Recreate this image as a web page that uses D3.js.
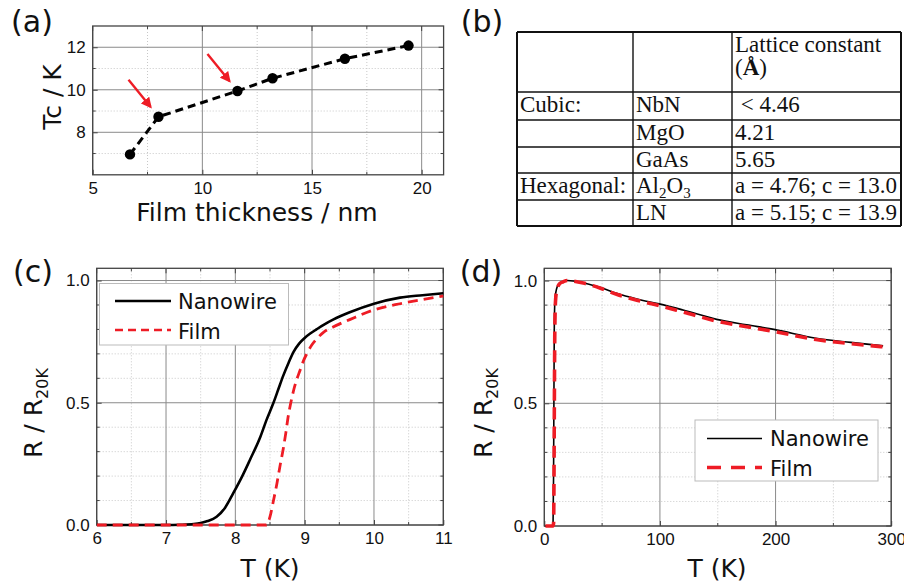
<!DOCTYPE html>
<html>
<head>
<meta charset="utf-8">
<script src="https://cdn.jsdelivr.net/npm/d3@7"></script>
<style>
  body { margin: 0; background: #fff; }
  svg { display: block; }
</style>
</head>
<body>
<div id="chart"></div>
<script>
// (a) Tc vs film thickness
const thickness = [6.7, 8.0, 11.6, 13.2, 16.5, 19.4];
const tcValues = [6.96, 8.73, 9.94, 10.54, 11.46, 12.08];
const arrowAt = [1, 2]; // indexes of points marked by red arrows

// (b) lattice table
const tableHeader = ["", "", "Lattice constant"];
const tableRows = [
  ["Cubic:", "NbN", " < 4.46"],
  ["", "MgO", "4.21"],
  ["", "GaAs", "5.65"],
  ["Hexagonal:", "Al2O3", "a = 4.76; c = 13.0"],
  ["", "LN", "a = 5.15; c = 13.9"],
];

// (c) transition zoom
const cWireT = [6.0, 6.5, 7.0, 7.2, 7.4, 7.5, 7.6, 7.73, 7.85, 7.97, 8.1, 8.21, 8.36, 8.45, 8.55, 8.62, 8.69, 8.77, 8.84, 8.92, 9.0, 9.08, 9.17, 9.28, 9.41, 9.65, 10.0, 10.375, 10.7, 11.0];
const cWireR = [0, 0, 0, 0.001, 0.004, 0.008, 0.016, 0.034, 0.07, 0.13, 0.2, 0.266, 0.36, 0.43, 0.5, 0.555, 0.61, 0.665, 0.708, 0.742, 0.765, 0.783, 0.8, 0.82, 0.84, 0.87, 0.905, 0.93, 0.94, 0.948];
const cFilmT = [6.0, 7.0, 8.0, 8.45, 8.5, 8.55, 8.6, 8.65, 8.69, 8.73, 8.76, 8.8, 8.84, 8.88, 8.93, 8.98, 9.03, 9.1, 9.17, 9.28, 9.41, 9.65, 10.0, 10.375, 10.7, 11.0];
const cFilmR = [0, 0, 0, 0, 0.034, 0.1, 0.17, 0.25, 0.31, 0.38, 0.44, 0.5, 0.55, 0.59, 0.63, 0.67, 0.7, 0.735, 0.76, 0.79, 0.81, 0.84, 0.88, 0.905, 0.922, 0.937];

// (d) full range
const dWireT = [1, 4, 7, 7.6, 8.0, 8.3, 8.6, 9.0, 9.5, 10.3, 11.2, 13, 16.4, 20, 25, 33.7, 48, 62.5, 80, 99.3, 120, 149, 175, 199.5, 235, 265, 293];
const dWireR = [0, 0, 0, 0.02, 0.2, 0.5, 0.78, 0.9, 0.935, 0.96, 0.975, 0.988, 0.996, 1.0, 0.998, 0.99, 0.973, 0.948, 0.925, 0.905, 0.88, 0.842, 0.82, 0.8, 0.765, 0.748, 0.734];
const dFilmT = [1, 4, 7.5, 8.0, 8.4, 8.7, 9.0, 9.4, 9.9, 10.6, 11.5, 13, 16.4, 20, 25, 33.7, 48, 62.5, 80, 99.3, 120, 149, 175, 199.5, 235, 265, 293];
const dFilmR = [0, 0, 0, 0.01, 0.2, 0.5, 0.75, 0.88, 0.93, 0.955, 0.972, 0.986, 0.995, 1.0, 0.998, 0.99, 0.97, 0.944, 0.92, 0.898, 0.872, 0.835, 0.812, 0.792, 0.76, 0.743, 0.73];

const legendNames = ["Nanowire", "Film"];

const RED = "#ee1c25";
const labelFont = "DejaVu Sans, Verdana, sans-serif";
const tickFont = "Liberation Sans, Arial, sans-serif";

const svg = d3.select("#chart").append("svg")
  .attr("width", 904)
  .attr("height", 585);

function panel(o) {
  const x = d3.scaleLinear().domain(o.xDomain).range([o.l, o.r]);
  const y = d3.scaleLinear().domain(o.yDomain).range([o.b, o.t]);
  const g = svg.append("g");

  // minor grid (dotted)
  g.selectAll(".xminor").data(o.xMinor).enter().append("line")
    .attr("x1", d => x(d)).attr("x2", d => x(d))
    .attr("y1", o.t).attr("y2", o.b)
    .attr("stroke", "#c8c8c8").attr("stroke-width", 1)
    .attr("stroke-dasharray", "1,2");
  g.selectAll(".yminor").data(o.yMinor).enter().append("line")
    .attr("y1", d => y(d)).attr("y2", d => y(d))
    .attr("x1", o.l).attr("x2", o.r)
    .attr("stroke", "#c8c8c8").attr("stroke-width", 1)
    .attr("stroke-dasharray", "1,2");

  // major grid
  g.selectAll(".xmajor").data(o.xMajor).enter().append("line")
    .attr("x1", d => x(d)).attr("x2", d => x(d))
    .attr("y1", o.t).attr("y2", o.b)
    .attr("stroke", "#8a8a8a").attr("stroke-width", 1);
  g.selectAll(".ymajor").data(o.yMajor).enter().append("line")
    .attr("y1", d => y(d)).attr("y2", d => y(d))
    .attr("x1", o.l).attr("x2", o.r)
    .attr("stroke", "#8a8a8a").attr("stroke-width", 1);

  // axes with inward ticks
  const xAx = g.append("g").attr("transform", `translate(0,${o.b})`)
    .call(d3.axisBottom(x).tickValues(o.xMajor).tickSize(-5).tickPadding(7)
      .tickFormat(o.xFormat || d3.format("d")));
  const yAx = g.append("g").attr("transform", `translate(${o.l},0)`)
    .call(d3.axisLeft(y).tickValues(o.yMajor).tickSize(-5).tickPadding(7)
      .tickFormat(o.yFormat || d3.format("d")));
  [xAx, yAx].forEach(a => {
    a.select(".domain").remove();
    a.selectAll(".tick line").attr("stroke", "#444");
    a.selectAll("text")
      .style("font-family", tickFont)
      .style("font-size", "17px")
      .attr("fill", "#111");
  });

  // mirrored major ticks on top and right
  g.selectAll(".xtt").data(o.xMajor).enter().append("line")
    .attr("x1", d => x(d)).attr("x2", d => x(d))
    .attr("y1", o.t).attr("y2", o.t + 5).attr("stroke", "#444");
  g.selectAll(".ytr").data(o.yMajor).enter().append("line")
    .attr("y1", d => y(d)).attr("y2", d => y(d))
    .attr("x1", o.r).attr("x2", o.r - 5).attr("stroke", "#444");

  // minor ticks, all four sides
  [o.b, o.t].forEach((yy, k) => {
    g.selectAll(".xmt" + k).data(o.xMinor).enter().append("line")
      .attr("x1", d => x(d)).attr("x2", d => x(d))
      .attr("y1", yy).attr("y2", yy + (k ? 3 : -3)).attr("stroke", "#444");
  });
  [o.l, o.r].forEach((xx, k) => {
    g.selectAll(".ymt" + k).data(o.yMinor).enter().append("line")
      .attr("y1", d => y(d)).attr("y2", d => y(d))
      .attr("x1", xx).attr("x2", xx + (k ? -3 : 3)).attr("stroke", "#444");
  });

  // frame
  g.append("rect")
    .attr("x", o.l).attr("y", o.t)
    .attr("width", o.r - o.l).attr("height", o.b - o.t)
    .attr("fill", "none").attr("stroke", "#444").attr("stroke-width", 1.3);

  const clip = "clip" + Math.round(o.l) + Math.round(o.t);
  svg.append("clipPath").attr("id", clip).append("rect")
    .attr("x", o.l).attr("y", o.t - 4)
    .attr("width", o.r - o.l + 2).attr("height", o.b - o.t + 6);

  return { g, x, y, clip };
}

function panelLetter(txt, cx, cy) {
  svg.append("text")
    .attr("x", cx).attr("y", cy)
    .attr("text-anchor", "middle")
    .style("font-family", labelFont)
    .style("font-size", "30px")
    .attr("fill", "#111")
    .text(txt);
}

function xLabel(txt, cx, by) {
  svg.append("text")
    .attr("x", cx).attr("y", by)
    .attr("text-anchor", "middle")
    .style("font-family", labelFont)
    .style("font-size", "25px")
    .attr("fill", "#111")
    .text(txt);
}

function yLabel(cx, cy, main, sub) {
  const t = svg.append("text")
    .attr("transform", `translate(${cx},${cy}) rotate(-90)`)
    .attr("text-anchor", "middle")
    .style("font-family", labelFont)
    .style("font-size", "25px")
    .attr("fill", "#111");
  t.append("tspan").text(main);
  if (sub) {
    t.append("tspan").attr("dy", 6).style("font-size", "16px").text(sub);
  }
}

/* ---------- (a) ---------- */
const pa = panel({
  l: 92.7, r: 443.6, t: 26, b: 174.8,
  xDomain: [5, 21], yDomain: [6, 13],
  xMajor: [5, 10, 15, 20], xMinor: [7.5, 12.5, 17.5],
  yMajor: [8, 10, 12], yMinor: [7, 9, 11],
});
const tcPts = thickness.map((d, i) => [d, tcValues[i]]);
pa.g.append("path")
  .datum(tcPts)
  .attr("d", d3.line().x(d => pa.x(d[0])).y(d => pa.y(d[1])))
  .attr("fill", "none").attr("stroke", "#000")
  .attr("stroke-width", 3).attr("stroke-dasharray", "8,5");
pa.g.selectAll(".dot").data(tcPts).enter().append("circle")
  .attr("cx", d => pa.x(d[0])).attr("cy", d => pa.y(d[1]))
  .attr("r", 5.2).attr("fill", "#000");

svg.append("defs").append("marker")
  .attr("id", "arrowhead")
  .attr("viewBox", "0 0 10 10").attr("refX", 8).attr("refY", 5)
  .attr("markerWidth", 4.5).attr("markerHeight", 4.5)
  .attr("orient", "auto")
  .append("path").attr("d", "M0,0L10,5L0,10z").attr("fill", RED);
pa.g.selectAll(".arrow").data(arrowAt).enter().append("line")
  .attr("x1", i => pa.x(thickness[i]) - 30)
  .attr("y1", i => pa.y(tcValues[i]) - 37)
  .attr("x2", i => pa.x(thickness[i]) - 8)
  .attr("y2", i => pa.y(tcValues[i]) - 10)
  .attr("stroke", RED).attr("stroke-width", 2.4)
  .attr("marker-end", "url(#arrowhead)");

panelLetter("(a)", 32, 32);
xLabel("Film thickness / nm", 257, 221);
yLabel(61, 97, "Tc / K");

/* ---------- (b) table ---------- */
const colX = [517, 633, 732, 901];
const rowY = [32, 92, 120, 147, 173, 200, 226];
const tb = svg.append("g").style("font-family", "Liberation Serif, Times New Roman, serif")
  .style("font-size", "23px").attr("fill", "#111");
rowY.forEach((yy, i) => {
  tb.append("line").attr("x1", colX[0]).attr("x2", colX[3])
    .attr("y1", yy).attr("y2", yy)
    .attr("stroke", "#111").attr("stroke-width", (i === 0 || i === rowY.length - 1) ? 2 : 1.4);
});
colX.forEach((xx, i) => {
  tb.append("line").attr("x1", xx).attr("x2", xx)
    .attr("y1", rowY[0]).attr("y2", rowY[rowY.length - 1])
    .attr("stroke", "#111").attr("stroke-width", (i === 0 || i === colX.length - 1) ? 2 : 1.4);
});
tb.append("text").attr("x", colX[2] + 3).attr("y", rowY[0] + 20).text(tableHeader[2]);
const ang = tb.append("text").attr("x", colX[2] + 3).attr("y", rowY[0] + 43);
ang.append("tspan").text("(");
ang.append("tspan").style("font-weight", "bold").text("Å");
ang.append("tspan").text(")");
tableRows.forEach((row, i) => {
  const by = rowY[i + 1] + 20;
  row.forEach((cell, j) => {
    const t = tb.append("text").attr("x", colX[j] + 3).attr("y", by)
      .attr("xml:space", "preserve");
    if (cell === "Al2O3") {
      t.append("tspan").text("Al");
      t.append("tspan").attr("dy", 5).style("font-size", "15px").text("2");
      t.append("tspan").attr("dy", -5).text("O");
      t.append("tspan").attr("dy", 5).style("font-size", "15px").text("3");
    } else {
      t.text(cell);
    }
  });
});
panelLetter("(b)", 482, 32);

/* ---------- (c) ---------- */
const pc = panel({
  l: 96.7, r: 443.3, t: 268.3, b: 525,
  xDomain: [6, 11], yDomain: [0, 1.05],
  xMajor: [6, 7, 8, 9, 10, 11], xMinor: [6.5, 7.5, 8.5, 9.5, 10.5],
  yMajor: [0, 0.5, 1.0], yMinor: [0.1, 0.2, 0.3, 0.4, 0.6, 0.7, 0.8, 0.9],
  yFormat: d3.format(".1f"),
});
const lineC = d3.line().curve(d3.curveMonotoneX).x(d => pc.x(d[0])).y(d => pc.y(d[1]));
pc.g.append("path")
  .datum(cWireT.map((d, i) => [d, cWireR[i]]))
  .attr("d", lineC).attr("fill", "none").attr("stroke", "#000")
  .attr("stroke-width", 2.6)
  .attr("clip-path", `url(#${pc.clip})`);
pc.g.append("path")
  .datum(cFilmT.map((d, i) => [d, cFilmR[i]]))
  .attr("d", lineC).attr("fill", "none").attr("stroke", RED)
  .attr("stroke-width", 2.8).attr("stroke-dasharray", "10,6")
  .attr("clip-path", `url(#${pc.clip})`);

// legend (c)
const lc = svg.append("g");
lc.append("rect").attr("x", 99.5).attr("y", 283.5).attr("width", 189).attr("height", 61.5)
  .attr("fill", "#fff").attr("stroke", "#bbb").attr("stroke-width", 1);
lc.append("line").attr("x1", 115).attr("x2", 171).attr("y1", 301).attr("y2", 301)
  .attr("stroke", "#000").attr("stroke-width", 2.6);
lc.append("line").attr("x1", 115).attr("x2", 171).attr("y1", 330).attr("y2", 330)
  .attr("stroke", RED).attr("stroke-width", 2.6).attr("stroke-dasharray", "8,5");
legendNames.forEach((n, i) => {
  lc.append("text").attr("x", 178).attr("y", 309 + i * 30)
    .style("font-family", labelFont).style("font-size", "21px").attr("fill", "#111").text(n);
});

panelLetter("(c)", 33, 282);
xLabel("T (K)", 270, 577);
yLabel(42, 413, "R / R", "20K");

/* ---------- (d) ---------- */
const pd = panel({
  l: 544.3, r: 891.2, t: 268.3, b: 526,
  xDomain: [0, 300], yDomain: [0, 1.05],
  xMajor: [0, 100, 200, 300], xMinor: [50, 150, 250],
  yMajor: [0, 0.5, 1.0], yMinor: [0.1, 0.2, 0.3, 0.4, 0.6, 0.7, 0.8, 0.9],
  yFormat: d3.format(".1f"),
});
const lineD = d3.line().curve(d3.curveMonotoneX).x(d => pd.x(d[0])).y(d => pd.y(d[1]));
pd.g.append("path")
  .datum(dWireT.map((d, i) => [d, dWireR[i]]))
  .attr("d", lineD).attr("fill", "none").attr("stroke", "#000")
  .attr("stroke-width", 1.6)
  .attr("clip-path", `url(#${pd.clip})`);
pd.g.append("path")
  .datum(dFilmT.map((d, i) => [d, dFilmR[i]]))
  .attr("d", lineD).attr("fill", "none").attr("stroke", RED)
  .attr("stroke-width", 3.6).attr("stroke-dasharray", "12,7")
  .attr("clip-path", `url(#${pd.clip})`);

// legend (d)
const ld = svg.append("g");
ld.append("rect").attr("x", 695).attr("y", 420).attr("width", 183).attr("height", 61)
  .attr("fill", "#fff").attr("stroke", "#bbb").attr("stroke-width", 1);
ld.append("line").attr("x1", 707).attr("x2", 762).attr("y1", 438.5).attr("y2", 438.5)
  .attr("stroke", "#000").attr("stroke-width", 1.6);
ld.append("line").attr("x1", 707).attr("x2", 762).attr("y1", 467.5).attr("y2", 467.5)
  .attr("stroke", RED).attr("stroke-width", 3.6).attr("stroke-dasharray", "14,10");
legendNames.forEach((n, i) => {
  ld.append("text").attr("x", 770).attr("y", 446 + i * 30)
    .style("font-family", labelFont).style("font-size", "21px").attr("fill", "#111").text(n);
});

panelLetter("(d)", 481, 282);
xLabel("T (K)", 717, 577);
yLabel(492, 413, "R / R", "20K");
</script>
</body>
</html>
